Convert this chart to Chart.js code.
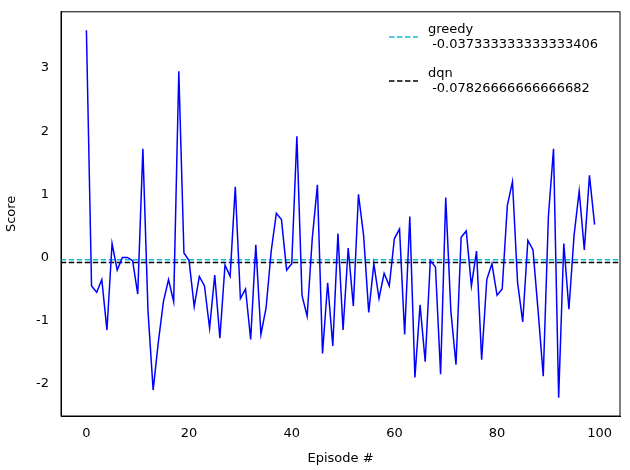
<!DOCTYPE html>
<html><head><script src="https://cdn.jsdelivr.net/npm/chart.js@4"></script>
<style>body{margin:0;background:#fff}</style></head><body>
<canvas id="c" width="630" height="470"></canvas>
<script>
const scores=[3.6,-0.45,-0.55,-0.35,-1.15,0.22,-0.2,0.0,0.0,-0.05,-0.58,1.72,-0.85,-2.1,-1.35,-0.7,-0.35,-0.7,2.95,0.07,-0.05,-0.78,-0.3,-0.45,-1.12,-0.28,-1.28,-0.12,-0.3,1.12,-0.65,-0.5,-1.3,0.2,-1.22,-0.8,0.1,0.7,0.6,-0.2,-0.1,1.92,-0.6,-0.93,0.3,1.15,-1.52,-0.4,-1.4,0.38,-1.15,0.15,-0.77,1.0,0.35,-0.87,-0.1,-0.65,-0.25,-0.45,0.3,0.45,-1.22,0.65,-1.9,-0.75,-1.65,-0.05,-0.15,-1.85,0.95,-0.85,-1.7,0.32,0.42,-0.45,0.1,-1.62,-0.35,-0.1,-0.6,-0.5,0.82,1.2,-0.4,-1.02,0.27,0.12,-0.85,-1.88,0.65,1.72,-2.22,0.22,-0.82,0.35,1.05,0.12,1.3,0.52];
const episodes=scores.map((_,i)=>i);
const greedy=-0.037333333333333406, dqn=-0.07826666666666682;
const xTicks=[0,20,40,60,80,100], yTicks=[-2,-1,0,1,2,3];
const font={family:'DejaVu Sans',size:13};
const frame={id:'frame',afterDraw(c){const a=c.chartArea,x=c.ctx;x.save();x.strokeStyle='#000';x.lineWidth=1;x.strokeRect(a.left,a.top,a.right-a.left,a.bottom-a.top);
x.font='13px DejaVu Sans';x.fillStyle='#000';x.textBaseline='middle';
const items=[['greedy',String(greedy),'#17becf'],['dqn',String(dqn),'#000']];
items.forEach((it,i)=>{const y=30+i*44;x.strokeStyle=it[2];x.lineWidth=1.5;x.setLineDash([5.5,2.5]);x.beginPath();x.moveTo(389,y+7);x.lineTo(418,y+7);x.stroke();x.setLineDash([]);
x.fillText(it[0],428,y);x.fillText(' '+it[1],428,y+15);});x.restore();}};
new Chart(document.getElementById('c'),{type:'line',data:{datasets:[
{data:episodes.map((e,i)=>({x:e,y:scores[i]})),borderColor:'#0000ff',borderWidth:1.5,pointRadius:0,tension:0},
{data:[{x:-5,y:greedy},{x:105,y:greedy}],borderColor:'#17becf',borderDash:[5.5,2.5],borderWidth:1.5,pointRadius:0},
{data:[{x:-5,y:dqn},{x:105,y:dqn}],borderColor:'#000',borderDash:[5.5,2.5],borderWidth:1.5,pointRadius:0}]},
options:{responsive:false,animation:false,layout:{padding:{top:10,right:10}},
plugins:{legend:{display:false},tooltip:{enabled:false}},
scales:{x:{type:'linear',min:-4.95,max:103.95,grid:{display:false,drawTicks:true},border:{color:'#000'},
afterBuildTicks:s=>{s.ticks=xTicks.map(v=>({value:v}))},afterFit:s=>{s.height=54},
ticks:{color:'#000',font,maxRotation:0,padding:2},title:{display:true,text:'Episode #',color:'#000',font,padding:{top:0}}},
y:{min:-2.511,max:3.891,grid:{display:false},border:{color:'#000'},
afterBuildTicks:s=>{s.ticks=yTicks.map(v=>({value:v}))},afterFit:s=>{s.width=61},
ticks:{color:'#000',font,padding:4},title:{display:true,text:'Score',color:'#000',font}}}},
plugins:[frame]});
</script></body></html>
